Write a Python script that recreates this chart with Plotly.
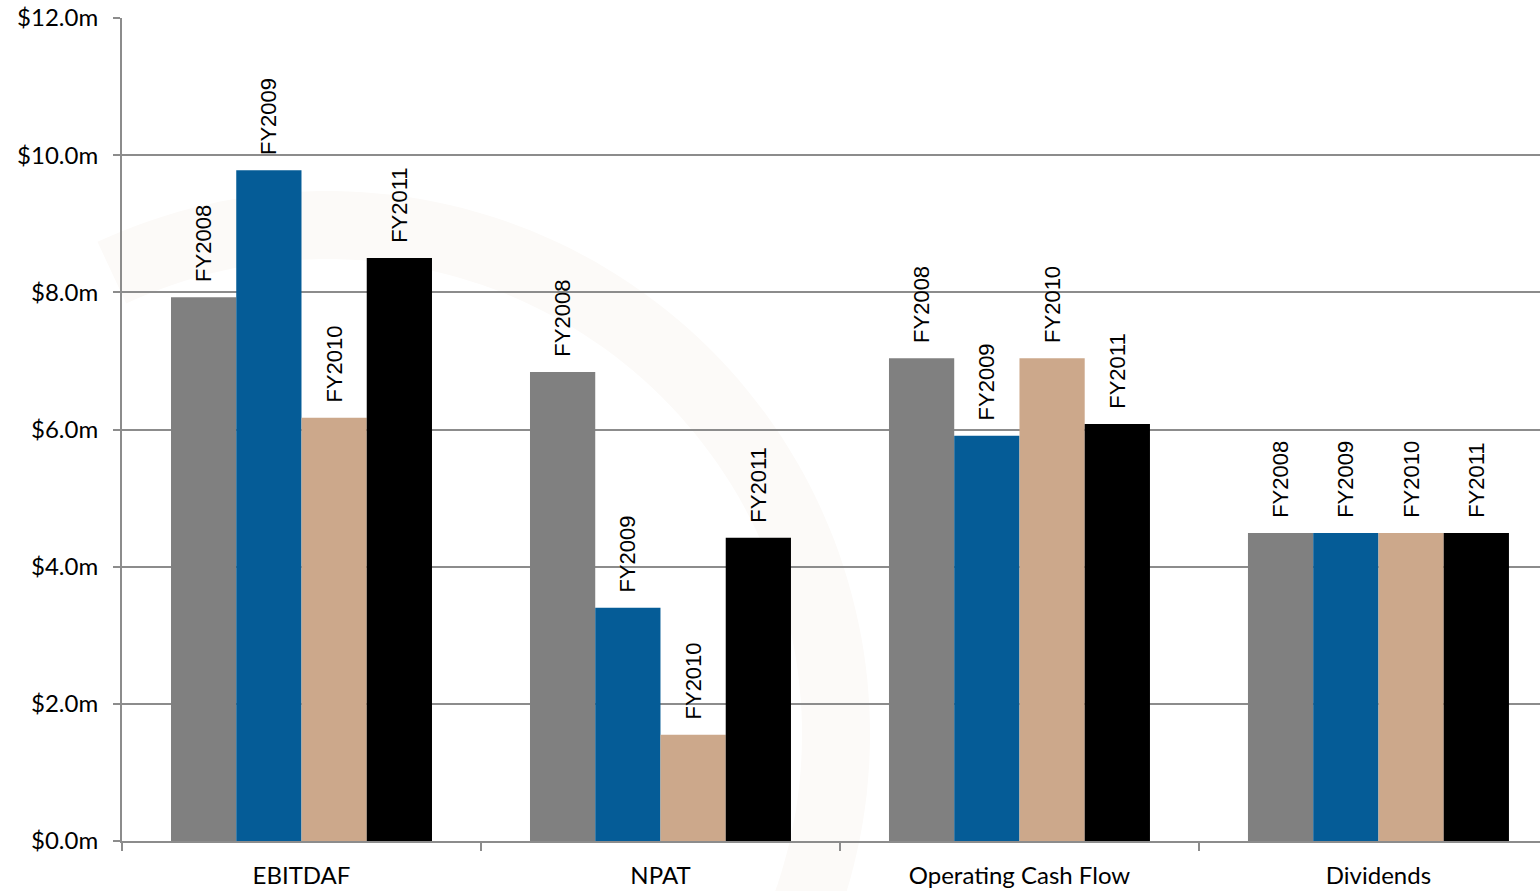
import numpy as np
import plotly.graph_objects as go

categories = ["EBITDAF", "NPAT", "Operating Cash Flow", "Dividends"]
series_names = ["FY2008", "FY2009", "FY2010", "FY2011"]
fy2008 = [7.93, 6.84, 7.04, 4.49]
fy2009 = [9.78, 3.40, 5.91, 4.49]
fy2010 = [6.17, 1.55, 7.04, 4.49]
fy2011 = [8.50, 4.42, 6.08, 4.49]
colors = ["#808080", "#055C97", "#CCA88B", "#000000"]
y_ticks = [0, 2, 4, 6, 8, 10, 12]
y_tick_labels = ["$0.0m", "$2.0m", "$4.0m", "$6.0m", "$8.0m", "$10.0m", "$12.0m"]

fig = go.Figure()
for name, vals, col in zip(series_names, [fy2008, fy2009, fy2010, fy2011], colors):
    fig.add_trace(go.Bar(
        x=categories, y=vals, name=name,
        marker=dict(color=col, line=dict(width=0)),
        text=["\u00a0\u00a0" + name] * len(vals),
        textposition="outside", textangle=-90,
        textfont=dict(family="Liberation Sans", size=22, color="#000000"),
        constraintext="none", cliponaxis=False,
    ))

# faint decorative ring watermark (pixel -> paper)
L, T, W, H = 122, 18, 1418, 823
def to_paper(px, py):
    return (px - L) / W, (T + H - py) / H
cx, cy, r_out, r_in = 327, 734, 543, 475
angs_out = np.linspace(np.deg2rad(115), np.deg2rad(-20), 90)
angs_in = angs_out[::-1]
pts = [to_paper(cx + r_out * np.cos(a), cy - r_out * np.sin(a)) for a in angs_out]
pts += [to_paper(cx + r_in * np.cos(a), cy - r_in * np.sin(a)) for a in angs_in]
path = "M " + " L ".join(f"{x:.4f},{y:.4f}" for x, y in pts) + " Z"
fig.add_shape(type="path", path=path, xref="paper", yref="paper",
              fillcolor="#FCFAF8", line=dict(width=0), layer="below")

fig.update_layout(
    width=1540, height=891,
    margin=dict(l=122, r=0, t=18, b=50),
    paper_bgcolor="white", plot_bgcolor="rgba(0,0,0,0)",
    barmode="group", bargap=0.273, bargroupgap=0,
    showlegend=False,
    font=dict(family="Lato", size=24, color="#000000"),
)
fig.update_yaxes(
    range=[0, 12], tickvals=y_ticks, ticktext=y_tick_labels,
    showgrid=True, gridcolor="#8C8C8C", gridwidth=2,
    showline=True, linecolor="#8C8C8C", linewidth=2,
    ticks="outside", ticklen=7, tickcolor="#8C8C8C", tickwidth=2,
    ticklabelstandoff=10, zeroline=False,
    tickfont=dict(family="Lato", size=24),
)
fig.update_xaxes(
    range=[-0.5, 3.45],
    showline=True, linecolor="#8C8C8C", linewidth=2,
    ticks="outside", tickson="boundaries", ticklen=8, tickcolor="#8C8C8C", tickwidth=2,
    ticklabelstandoff=12,
    tickfont=dict(family="Lato", size=24),
)
fig.write_html("out.html")
